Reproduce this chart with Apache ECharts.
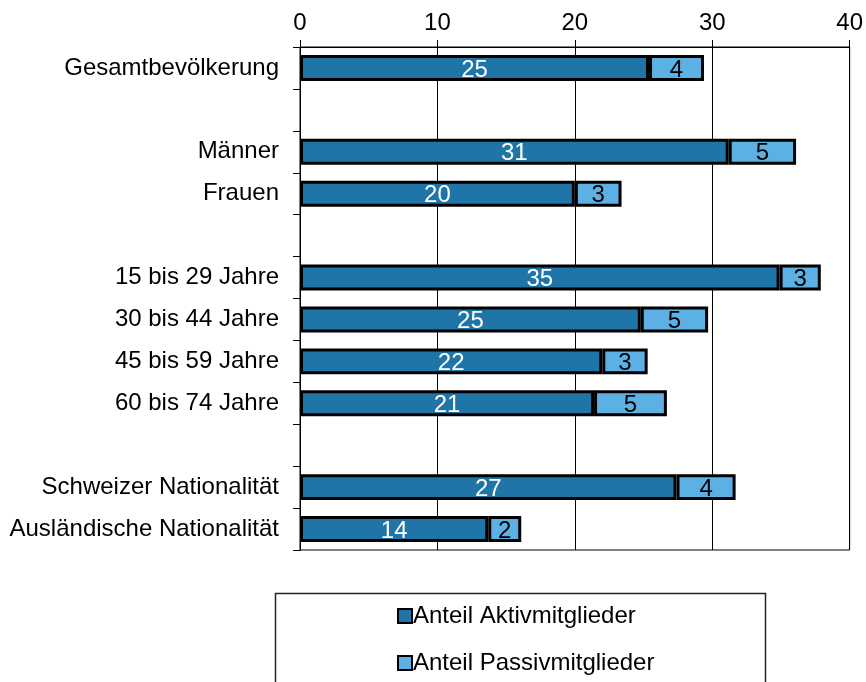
<!DOCTYPE html>
<html>
<head>
<meta charset="utf-8">
<script src="https://cdn.jsdelivr.net/npm/echarts@6/dist/echarts.min.js"></script>
<style>
    html, body { margin: 0; padding: 0; background: #fff; }
    #chart { width: 866px; height: 682px; }
</style>
</head>
<body>
<div id="chart"></div>
<script>
// Kategorien (leere Einträge = Abstand zwischen den Gruppen)
var categories = ['Gesamtbevölkerung', '', 'Männer', 'Frauen', '',
    '15 bis 29 Jahre', '30 bis 44 Jahre', '45 bis 59 Jahre', '60 bis 74 Jahre', '',
    'Schweizer Nationalität', 'Ausländische Nationalität'];
var aktiv = [25.4, null, 31.2, 20.0, null, 34.9, 24.8, 22.0, 21.4, null, 27.4, 13.7];
var passiv = [4.0, null, 4.9, 3.4, null, 3.0, 4.9, 3.3, 5.3, null, 4.3, 2.4];
var xTicks = [0, 10, 20, 30, 40];
var seriesNames = ['Anteil Aktivmitglieder', 'Anteil Passivmitglieder'];

var font = 'Liberation Sans, Arial, sans-serif';
var fs = 24;

var myChart = echarts.init(document.getElementById('chart'));

function runden(p) {
    return Math.round(p.value);
}

// eine Legende pro Eintrag, untereinander
function legende(name, top) {
    return {
        left: 392,
        top: top,
        itemWidth: 14,
        itemHeight: 14,
        icon: 'rect',
        textStyle: { color: '#000', fontSize: fs, fontFamily: font, padding: [0, 0, 0, -4] },
        data: [name]
    };
}

var option = {
    backgroundColor: '#fff',
    animation: false,
    textStyle: { fontFamily: font },
    grid: {
        left: 300, right: 13.5, top: 47, bottom: 132,
        show: true, borderColor: '#000', borderWidth: 1
    },
    xAxis: {
        type: 'value',
        position: 'top',
        min: xTicks[0],
        max: xTicks[xTicks.length - 1],
        interval: 10,
        axisLine: { show: true, lineStyle: { color: '#000', width: 1 } },
        axisTick: { show: true, length: 7, lineStyle: { color: '#000' } },
        axisLabel: { color: '#000', fontSize: fs, fontFamily: font, margin: 12 },
        splitLine: { show: true, lineStyle: { color: '#000', width: 1 } }
    },
    yAxis: {
        type: 'category',
        inverse: true,
        data: categories,
        axisLine: { show: true, lineStyle: { color: '#000', width: 1 } },
        axisTick: { show: true, length: 7, lineStyle: { color: '#000' } },
        axisLabel: { color: '#000', fontSize: fs, fontFamily: font, margin: 21 }
    },
    legend: [
        legende(seriesNames[0], 599),
        legende(seriesNames[1], 646)
    ],
    graphic: [{
        type: 'rect',
        left: 273, top: 591,
        shape: { width: 490, height: 110 },
        style: { fill: 'none', stroke: '#222', lineWidth: 1.5 },
        z: -1
    }],
    series: [
        {
            name: seriesNames[0],
            type: 'bar',
            stack: 'anteil',
            barWidth: '62%',
            data: aktiv,
            itemStyle: { color: '#1f74a8', borderColor: '#000', borderWidth: 3 },
            label: {
                show: true, position: 'inside', color: '#fff', offset: [0, 2],
                fontSize: fs, fontFamily: font, formatter: runden
            }
        },
        {
            name: seriesNames[1],
            type: 'bar',
            stack: 'anteil',
            barWidth: '62%',
            data: passiv,
            itemStyle: { color: '#5db0e4', borderColor: '#000', borderWidth: 3 },
            label: {
                show: true, position: 'inside', color: '#000', offset: [0, 2],
                fontSize: fs, fontFamily: font, formatter: runden
            }
        }
    ]
};

myChart.setOption(option);
</script>
</body>
</html>
